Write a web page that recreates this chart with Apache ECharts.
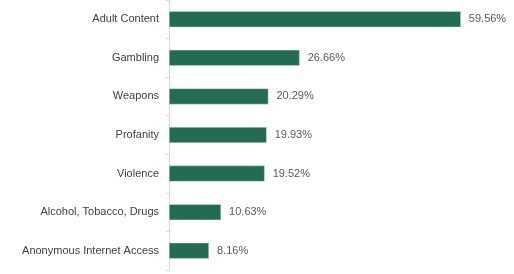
<!DOCTYPE html>
<html>
<head>
<meta charset="utf-8">
<script src="https://cdn.jsdelivr.net/npm/echarts@6/dist/echarts.min.js"></script>
<style>
  html, body { margin: 0; padding: 0; background: #fff; }
  #chart { width: 514px; height: 274px; }
</style>
</head>
<body>
<div id="chart"></div>
<script>
const categories = ['Adult Content', 'Gambling', 'Weapons', 'Profanity', 'Violence', 'Alcohol, Tobacco, Drugs', 'Anonymous Internet Access'];
const values = [59.56, 26.66, 20.29, 19.93, 19.52, 10.63, 8.16];

const chart = echarts.init(document.getElementById('chart'));
chart.setOption({
    animation: false,
    grid: { left: 169, right: 2, top: -4, bottom: 4, containLabel: false },
    xAxis: {
        type: 'value',
        min: 0,
        max: 70,
        show: false
    },
    yAxis: {
        type: 'category',
        data: categories,
        inverse: true,
        axisLine: { show: true, lineStyle: { color: '#d9d9d9', width: 1 } },
        axisTick: { show: true, length: 3, lineStyle: { color: '#d9d9d9' } },
        axisLabel: {
            color: '#404040',
            fontFamily: 'Liberation Sans, Arial, sans-serif',
            fontSize: 11,
            margin: 10
        }
    },
    series: [{
        type: 'bar',
        data: values,
        barWidth: 16,
        itemStyle: { color: '#236b53', borderColor: '#cfe3da', borderWidth: 0.5 },
        label: {
            show: true,
            position: 'right',
            distance: 8,
            color: '#595959',
            fontFamily: 'Liberation Sans, Arial, sans-serif',
            fontSize: 11,
            formatter: p => p.value.toFixed(2) + '%'
        }
    }]
});
</script>
</body>
</html>
